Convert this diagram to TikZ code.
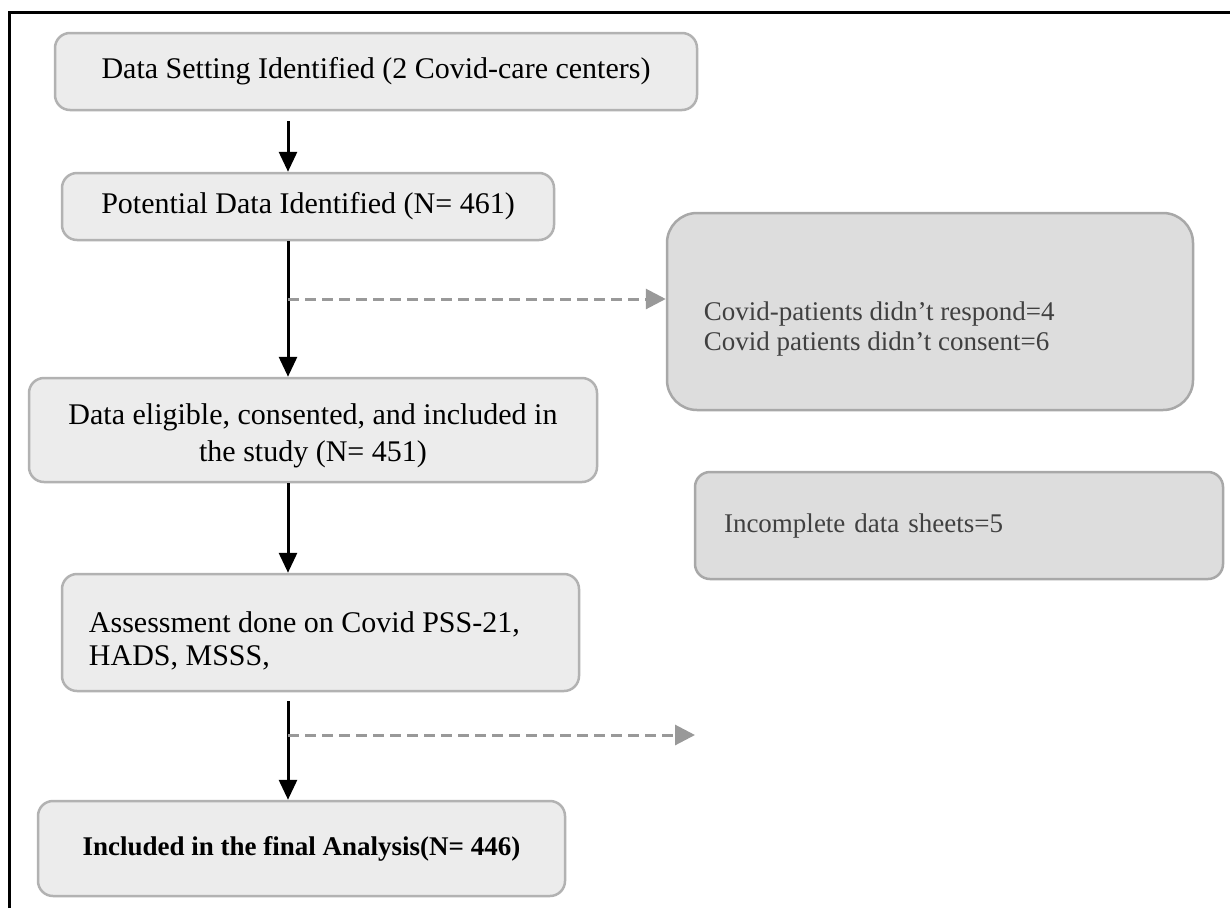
\documentclass[tikz,border=0pt]{standalone}
\usepackage{fontspec}
\setmainfont{Liberation Serif}
\usetikzlibrary{arrows.meta}
\definecolor{boxfill}{HTML}{ECECEC}
\definecolor{boxline}{HTML}{B2B2B2}
\definecolor{sidefill}{HTML}{DDDDDD}
\definecolor{sideline}{HTML}{A8A8A8}
\definecolor{sidetext}{HTML}{404040}
\definecolor{dashcol}{HTML}{999999}
\begin{document}
\begin{tikzpicture}[x=1pt,y=-1pt,
  mainbox/.style={draw=boxline, fill=boxfill, line width=2.5pt, rounded corners=15pt,
    inner sep=0pt, align=center, font=\fontsize{30}{37}\selectfont},
  sidebox/.style={draw=sideline, fill=sidefill, line width=2.5pt, rounded corners=15pt,
    inner sep=0pt, align=left, text=sidetext, font=\fontsize{27}{30}\selectfont},
  boxtext/.style={inner sep=0pt, anchor=west, align=left},
  flow/.style={line width=3pt, -{Triangle[length=20pt,width=18pt]}},
  skip/.style={line width=3pt, draw=dashcol, dash pattern=on 11pt off 6pt,
    -{Triangle[length=20pt,width=20pt,fill=dashcol]}}
]
\useasboundingbox (0,0) rectangle (1230,908);
\fill[white] (0,0) rectangle (1230,908);
\draw[line width=3pt] (9,908) -- (9,12) -- (1230,12);

\node[mainbox, minimum width=642pt, minimum height=77pt] (b1) at (376,71.5)
  {Data Setting Identified (2 Covid-care centers)};
\node[mainbox, minimum width=492pt, minimum height=67pt] (b2) at (308,206.5)
  {Potential Data Identified (N= 461)};
\node[mainbox, minimum width=568pt, minimum height=104pt] (b3) at (313,430) {};
\node[inner sep=0pt, align=center, font=\fontsize{30}{37}\selectfont] (b3t) at ([yshift=-6pt]b3.center)
  {Data eligible, consented, and included in\\ the study (N= 451)};
\node[mainbox, minimum width=517pt, minimum height=117pt] (b4) at (320.5,632.5) {};
\node[boxtext, font=\fontsize{30}{33}\selectfont] (b4t) at ([xshift=28pt,yshift=-8pt]b4.west)
  {Assessment done on Covid PSS-21,\\ HADS, MSSS,};
\node[mainbox, minimum width=527pt, minimum height=95pt, font=\bfseries\fontsize{27}{30}\selectfont] (b5) at (301.5,848.5)
  {Included in the final Analysis(N= 446)};
\node[sidebox, rounded corners=30pt, minimum width=526pt, minimum height=197pt] (b6) at (930,311.5) {};
\node[boxtext, text=sidetext, font=\fontsize{27}{30}\selectfont] (b6t) at ([xshift=38pt,yshift=-17pt]b6.west)
  {Covid-patients didn't respond=4\\ Covid patients didn't consent=6};
\node[sidebox, minimum width=528pt, minimum height=107pt, text width=470pt] (b7) at (959,525.5)
  {Incomplete data sheets=5};

\coordinate (ax) at (288,0);
\coordinate (d1) at (288,299);
\coordinate (d2) at (288,735);
\coordinate (d2end) at (695,735);

\draw[flow] ([yshift=-10pt]b1.south -| ax) -- (b2.north -| ax);
\draw[flow] (b2.south -| ax) -- (b3.north -| ax);
\draw[flow] (b3.south -| ax) -- (b4.north -| ax);
\draw[flow] ([yshift=-9pt]b4.south -| ax) -- (b5.north -| ax);
\draw[skip] (d1) -- (b6.west |- d1);
\draw[skip] (d2) -- (d2end);
\end{tikzpicture}
\end{document}
